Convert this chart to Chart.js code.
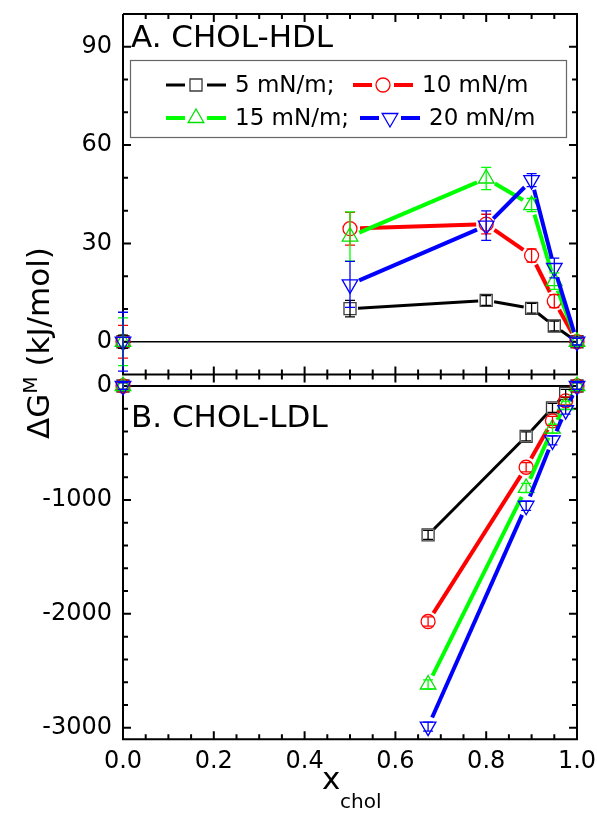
<!DOCTYPE html>
<html>
<head>
<meta charset="utf-8">
<script src="https://cdn.jsdelivr.net/npm/chart.js@4.4.0/dist/chart.umd.min.js"></script>
<style>
  body { margin: 0; background: #fff; }
  #wrap { position: relative; width: 597px; height: 813px; font-family: "DejaVu Sans", sans-serif; color: #000; overflow: hidden; }
  canvas { position: absolute; left: 0; }
  #chartA { top: 0; }
  #chartB { top: 360px; }
  .txt { position: absolute; white-space: nowrap; line-height: 1; }
  .panel { font-size: 31px; left: 131px; }
  #ytitle { left: -112px; top: 325px; width: 300px; height: 36px; line-height: 36px; text-align: center;
            font-size: 31px; transform: rotate(-90deg); }
  #ytitle sup { font-size: 20px; vertical-align: 12px; line-height: 0; }
</style>
</head>
<body>
<div id="wrap">
  <canvas id="chartA" width="597" height="390"></canvas>
  <canvas id="chartB" width="597" height="453"></canvas>
  <div class="txt panel" style="top:21px">A. CHOL-HDL</div>
  <div class="txt panel" style="top:401px">B. CHOL-LDL</div>
  <div class="txt" id="ytitle">&Delta;G<sup>M</sup> (kJ/mol)</div>
  <div class="txt" style="left:322px; top:763px; font-size:31px">x</div>
  <div class="txt" style="left:340px; top:791px; font-size:20px">chol</div>
</div>
<script>
// surface pressures (legend)
const pressures = ["5 mN/m;", "10 mN/m", "15 mN/m;", "20 mN/m"];

// A. CHOL-HDL
const xA = [0, 0.5, 0.8, 0.9, 0.95, 1.0];
const hdl5 = [0, 10.1, 12.6, 10.2, 4.8, 0];
const hdl10 = [0, 34.5, 35.9, 26.3, 12.4, 0];
const hdl15 = [0, 32.1, 49.8, 41.7, 18.5, 0];
const hdl20 = [0, 17.5, 35.4, 49.3, 22.5, 0];
const hdl5Err = [2, 2.5, 1.5, 1.5, 1.5, 1];
const hdl10Err = [5, 5, 3, 2, 2, 1];
const hdl15Err = [7.3, 7.5, 3.4, 2, 2.5, 1];
const hdl20Err = [9, 7, 4.5, 2, 3, 1];

// B. CHOL-LDL
const xB = [0, 0.672, 0.888, 0.946, 0.975, 1.0];
const ldl5 = [0, -1307, -442, -192, -64, 0];
const ldl10 = [0, -2067, -713, -306, -130, 0];
const ldl15 = [0, -2620, -895, -374, -168, 0];
const ldl20 = [0, -2990, -1051, -477, -212, 0];
const ldlErr = [30, 40, 40, 40, 35, 30];

// axes
const xTicks = [0, 0.2, 0.4, 0.6, 0.8, 1.0];
const yTicksA = [0, 30, 60, 90];
const yTicksB = [-3000, -2000, -1000, 0];

const looks = [
  { color: "#000000", edge: "#3c3c3c", style: "rect", radius: 8.5, rotation: 0, width: 3, gap: 8 },
  { color: "#ff0000", edge: "#ff0000", style: "circle", radius: 7, rotation: 0, width: 4, gap: 10 },
  { color: "#00ff00", edge: "#00e000", style: "triangle", radius: 9, rotation: 0, width: 4, gap: 10 },
  { color: "#0000ff", edge: "#0000ff", style: "triangle", radius: 9, rotation: 180, width: 4, gap: 10 }
];

const segLen = c => Math.hypot(c.p1.x - c.p0.x, c.p1.y - c.p0.y);

function series(xs, ys, errs, i) {
  const lk = looks[i];
  return {
    label: pressures[i],
    data: xs.map((x, j) => ({ x: x, y: ys[j] })),
    errors: errs,
    borderColor: lk.color,
    borderWidth: lk.width,
    pointStyle: lk.style,
    pointRadius: lk.radius,
    pointHoverRadius: lk.radius,
    pointRotation: lk.rotation,
    pointBorderColor: lk.edge,
    pointBackgroundColor: "rgba(0,0,0,0)",
    pointBorderWidth: 1.3,
    clip: false,
    order: 4 - i,
    segment: {
      // no line from the pure point at x = 0, and a gap round each symbol
      borderColor: c => (c.p0DataIndex === 0 ? "rgba(0,0,0,0)" : undefined),
      borderDash: c => [Math.max(segLen(c) - 2 * lk.gap, 0.01), 2 * lk.gap],
      borderDashOffset: c => segLen(c) - lk.gap
    }
  };
}

function mark(ctx, lk, x, y) {
  ctx.beginPath();
  if (lk.style === "rect") {
    const s = lk.radius * Math.SQRT1_2;
    ctx.rect(x - s, y - s, 2 * s, 2 * s);
  } else if (lk.style === "circle") {
    ctx.arc(x, y, lk.radius, 0, Math.PI * 2);
  } else {
    const r = lk.radius, d = lk.rotation ? -1 : 1;
    ctx.moveTo(x, y - d * r);
    ctx.lineTo(x + r * 0.866, y + d * r / 2);
    ctx.lineTo(x - r * 0.866, y + d * r / 2);
    ctx.closePath();
  }
  ctx.strokeStyle = lk.edge;
  ctx.lineWidth = 1.3;
  ctx.stroke();
}

const frame = {
  id: "frame",
  beforeDatasetsDraw(chart, args, o) {
    const { ctx, chartArea: a, scales: { x, y } } = chart;
    ctx.save();
    ctx.strokeStyle = "#000";
    if (o.zero) {
      const zy = y.getPixelForValue(0);
      ctx.lineWidth = 1.5;
      ctx.beginPath();
      ctx.moveTo(a.left, zy);
      ctx.lineTo(a.right, zy);
      ctx.stroke();
    }
    ctx.lineWidth = 2;
    ctx.beginPath();
    ctx.moveTo(a.left, a.top);
    ctx.lineTo(a.left, a.bottom);
    ctx.lineTo(a.right, a.bottom);
    ctx.lineTo(a.right, a.top);
    ctx.lineTo(a.left, a.top);
    for (let k = 1; k < 20; k++) {
      const px = x.getPixelForValue(k * 0.05);
      const len = k % 4 === 0 ? 8 : 5;
      if (o.top) { ctx.moveTo(px, a.top); ctx.lineTo(px, a.top + len); }
      ctx.moveTo(px, a.bottom - len);
      ctx.lineTo(px, a.bottom + (o.bottomOut ? len : 0));
    }
    for (let v = Math.ceil(y.min / o.minor) * o.minor; v <= y.max; v += o.minor) {
      if (v === y.min || v === y.max) continue;
      const py = y.getPixelForValue(v);
      const len = o.major.includes(v) ? 8 : 5;
      ctx.moveTo(a.left, py); ctx.lineTo(a.left + len, py);
      ctx.moveTo(a.right, py); ctx.lineTo(a.right - len, py);
    }
    ctx.stroke();
    ctx.restore();
  }
};

const errorBars = {
  id: "errorBars",
  afterDatasetsDraw(chart) {
    const ctx = chart.ctx, ys = chart.scales.y;
    chart.data.datasets.forEach((ds, i) => {
      const meta = chart.getDatasetMeta(i);
      ctx.save();
      ctx.strokeStyle = ds.borderColor;
      ctx.lineWidth = 1.3;
      ctx.beginPath();
      meta.data.forEach((pt, j) => {
        const v = ds.data[j].y, e = ds.errors[j];
        const t = ys.getPixelForValue(v + e), b = ys.getPixelForValue(v - e);
        ctx.moveTo(pt.x, t); ctx.lineTo(pt.x, b);
        ctx.moveTo(pt.x - 5, t); ctx.lineTo(pt.x + 5, t);
        ctx.moveTo(pt.x - 5, b); ctx.lineTo(pt.x + 5, b);
      });
      ctx.stroke();
      ctx.restore();
    });
  }
};

const legendBox = {
  id: "legendBox",
  afterDatasetsDraw(chart) {
    const ctx = chart.ctx;
    ctx.save();
    ctx.fillStyle = "#fff";
    ctx.fillRect(130.5, 60.5, 436, 77);
    ctx.strokeStyle = "#666";
    ctx.lineWidth = 1.2;
    ctx.strokeRect(130.5, 60.5, 436, 77);
    const spots = [[166, 85], [353, 85], [166, 118], [360, 118]];
    ctx.font = '23px "DejaVu Sans"';
    ctx.textBaseline = "middle";
    spots.forEach(([x0, y0], i) => {
      const lk = looks[i];
      ctx.strokeStyle = lk.color;
      ctx.lineWidth = lk.width;
      ctx.beginPath();
      ctx.moveTo(x0, y0); ctx.lineTo(x0 + 19, y0);
      ctx.moveTo(x0 + 41, y0); ctx.lineTo(x0 + 60, y0);
      ctx.stroke();
      mark(ctx, lk, x0 + 30, y0);
      ctx.fillStyle = "#000";
      ctx.fillText(pressures[i], x0 + 69, y0 + 1);
    });
    ctx.restore();
  }
};

const tickFont = { family: "DejaVu Sans", size: 24 };

function makeChart(id, datasets, yMin, yMax, yTicks, padding, xShown, frameOpts) {
  return new Chart(document.getElementById(id), {
    type: "line",
    data: { datasets: datasets },
    options: {
      responsive: false,
      animation: false,
      events: [],
      layout: { padding: padding },
      plugins: { legend: { display: false }, tooltip: { enabled: false }, frame: frameOpts },
      scales: {
        x: {
          type: "linear",
          min: 0,
          max: 1,
          display: xShown,
          grid: { display: false, drawTicks: false },
          border: { display: false },
          afterBuildTicks: ax => { ax.ticks = xTicks.map(v => ({ value: v })); },
          afterFit: ax => {
            ax.paddingLeft = 0;
            ax.paddingRight = 0;
            if (!xShown) ax.height = 0;
          },
          ticks: { font: tickFont, color: "#000", padding: 8, maxRotation: 0, callback: v => v.toFixed(1) }
        },
        y: {
          min: yMin,
          max: yMax,
          grid: { display: false, drawTicks: false },
          border: { display: false },
          afterBuildTicks: ax => { ax.ticks = yTicks.map(v => ({ value: v })); },
          afterFit: ax => {
            ax.width = 123;
            ax.paddingTop = 0;
            ax.paddingBottom = 0;
          },
          ticks: { font: tickFont, color: "#000", padding: 11, callback: v => String(v) }
        }
      }
    },
    plugins: id === "chartA" ? [frame, errorBars, legendBox] : [frame, errorBars]
  });
}

makeChart("chartA", [
  series(xA, hdl5, hdl5Err, 0),
  series(xA, hdl10, hdl10Err, 1),
  series(xA, hdl15, hdl15Err, 2),
  series(xA, hdl20, hdl20Err, 3)
], -10, 100, yTicksA, { left: 0, right: 20, top: 14, bottom: 15.5 }, false,
  { zero: true, top: true, bottomOut: true, minor: 10, major: yTicksA });

makeChart("chartB", [
  series(xB, ldl5, ldlErr, 0),
  series(xB, ldl10, ldlErr, 1),
  series(xB, ldl15, ldlErr, 2),
  series(xB, ldl20, ldlErr, 3)
], -3100, 0, yTicksB, { left: 0, right: 20, top: 26, bottom: 29 }, true,
  { zero: false, top: false, bottomOut: false, minor: 200, major: yTicksB });
</script>
</body>
</html>
